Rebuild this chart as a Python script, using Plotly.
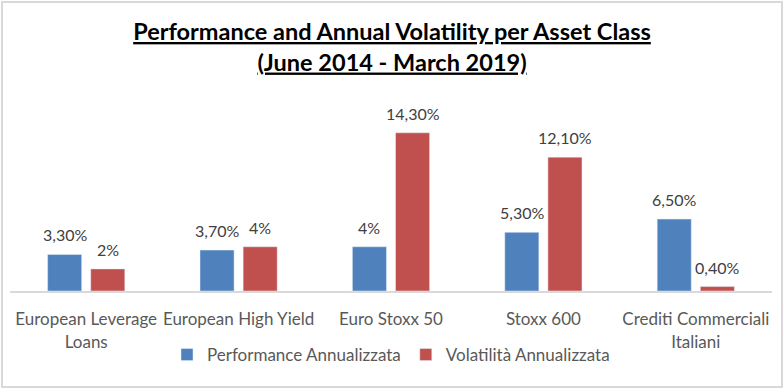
import plotly.graph_objects as go

categories = ["European Leverage<br>Loans", "European High Yield", "Euro Stoxx 50", "Stoxx 600", "Crediti Commerciali<br>Italiani"]
performance = [3.3, 3.7, 4.0, 5.3, 6.5]
volatility = [2.0, 4.0, 14.3, 12.1, 0.4]
performance_labels = ["3,30%", "3,70%", "4%", "5,30%", "6,50%"]
volatility_labels = ["2%", "4%", "14,30%", "12,10%", "0,40%"]

FONT = "Lato"
W, H = 784, 389
L, R, T, B = 10, 12, 114, 98
pw, ph = W - L - R, H - T - B
BARGAP = 0.434
SLOT = (1 - BARGAP) * pw / len(categories) / 2

def px_x(x):
    return (x - L) / pw

def px_y(y):
    return (H - B - y) / ph

fig = go.Figure()
fig.add_trace(go.Bar(
    x=categories, y=performance, name="Performance Annualizzata",
    marker_color="#4F81BD",
))
fig.add_trace(go.Bar(
    x=categories, y=volatility, name="Volatilità Annualizzata",
    marker_color="#C0504D",
))

for vals, labels, shift in ((performance, performance_labels, -SLOT / 2),
                            (volatility, volatility_labels, SLOT / 2)):
    for c, v, t in zip(categories, vals, labels):
        fig.add_annotation(x=c, y=v, text=t, showarrow=False, xshift=shift,
                           yanchor="bottom", yshift=8,
                           font=dict(size=16, color="#404040", family=FONT))

fig.update_layout(
    width=W, height=H,
    margin=dict(l=L, r=R, t=T, b=B, pad=0),
    paper_bgcolor="white", plot_bgcolor="white",
    barmode="group", bargap=BARGAP, bargroupgap=0.21,
    font=dict(family=FONT, size=16, color="#595959"),
    title=dict(
        text="<b><u>Performance and Annual Volatility per Asset Class</u></b><br><b><u>(June 2014 - March 2019)</u></b>",
        x=0.5, xanchor="center", y=1 - 40 / H, yanchor="top",
        font=dict(family=FONT, size=23.5, color="black"),
    ),
    xaxis=dict(showline=True, linecolor="#D9D9D9", linewidth=2, showgrid=False,
               ticks="", ticklabelstandoff=12,
               tickfont=dict(size=17, color="#595959", family=FONT)),
    yaxis=dict(range=[0, 16], visible=False, showgrid=False, zeroline=False),
    legend=dict(orientation="h", x=0.5, xanchor="center", y=px_y(355), yanchor="middle",
                font=dict(size=17, color="#595959", family=FONT), itemwidth=30),
    showlegend=True,
)

fig.add_shape(type="rect", xref="paper", yref="paper",
              x0=px_x(2), x1=px_x(782), y0=px_y(387), y1=px_y(2),
              line=dict(color="#D9D9D9", width=2), fillcolor="rgba(0,0,0,0)", layer="below")

fig.write_html("out.html", config={"displayModeBar": False},
               post_script="document.body.style.margin='0';")
